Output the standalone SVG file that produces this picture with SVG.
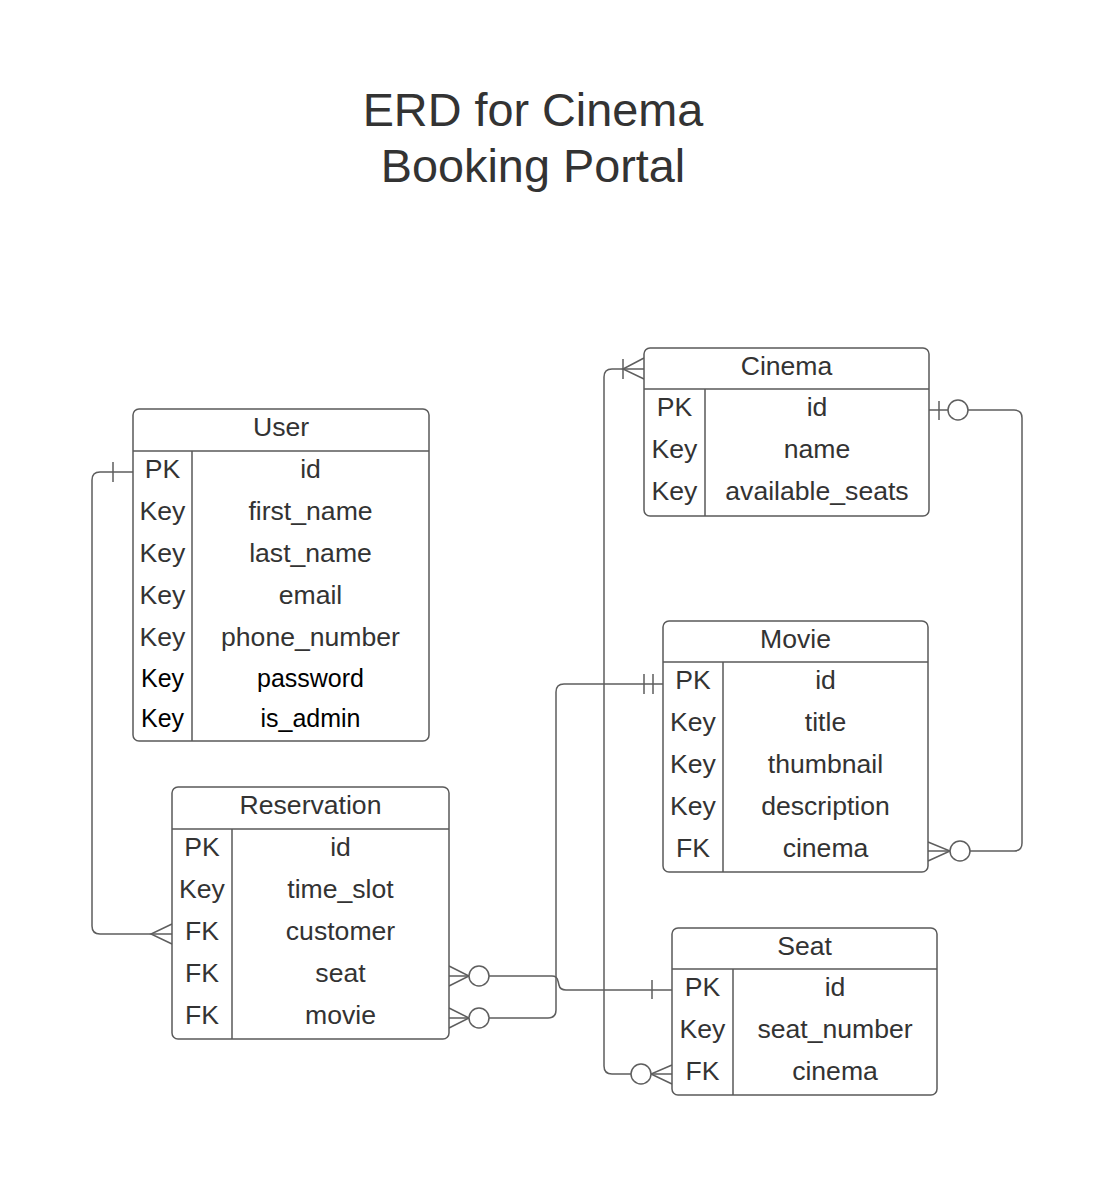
<svg xmlns="http://www.w3.org/2000/svg" width="1102" height="1179" viewBox="0 0 1102 1179">
<style>
.bg{fill:#ffffff}
.tbl{fill:#ffffff;stroke:#5a5a5a;stroke-width:1.5}
.ln{fill:none;stroke:#5a5a5a;stroke-width:1.5}
.cn{fill:none;stroke:#5e5e5e;stroke-width:1.5}
.ci{fill:#ffffff;stroke:#5e5e5e;stroke-width:1.5}
text{font-family:"Liberation Sans",Arial,sans-serif;fill:#333333;text-anchor:middle}
.t{font-size:26.6px}
.b{font-size:25px;fill:#000000}
.title{font-size:46.8px}
</style>
<rect class="bg" x="0" y="0" width="1102" height="1179"/>
<g id="title">
<text class="title" x="533" y="126">ERD for Cinema</text>
<text class="title" x="533" y="182">Booking Portal</text>
</g>
<g id="connectors">
<!-- User.id to Reservation.customer -->
<path class="cn" d="M133 472 H100 Q92 472 92 480 V926 Q92 934 100 934 H172"/>
<path class="cn" d="M113 462 V482"/>
<path class="cn" d="M172 924 L151 934 L172 944"/>
<!-- Cinema.id to Movie.cinema -->
<path class="cn" d="M929 410 H1014 Q1022 410 1022 418 V843 Q1022 851 1014 851 H928"/>
<path class="cn" d="M939 401 V420"/>
<circle class="ci" cx="958" cy="410" r="10"/>
<path class="cn" d="M928 842 L950 851 L928 861"/>
<circle class="ci" cx="960" cy="851" r="10"/>
<!-- Seat.cinema to Cinema -->
<path class="cn" d="M672 1074 H612 Q604 1074 604 1066 V377 Q604 369 612 369 H644"/>
<path class="cn" d="M672 1065 L651 1074 L672 1084"/>
<circle class="ci" cx="641" cy="1074" r="10"/>
<path class="cn" d="M644 358 L623 369 L644 379"/>
<path class="cn" d="M623 359 V379"/>
<!-- Reservation.seat to Seat.id -->
<path class="cn" d="M449 976 H552 Q557 976 558 981 L559 985 Q560 990 566 990 H672"/>
<path class="cn" d="M652 980 V999"/>
<path class="cn" d="M449 966 L469 976 L449 986"/>
<circle class="ci" cx="479" cy="976" r="10"/>
<!-- Reservation.movie to Movie.id -->
<path class="cn" d="M449 1018 H548 Q556 1018 556 1010 V692 Q556 684 564 684 H663"/>
<path class="cn" d="M644 674 V694 M653 674 V694"/>
<path class="cn" d="M449 1008 L469 1018 L449 1028"/>
<circle class="ci" cx="479" cy="1018" r="10"/>
</g>
<g id="user">
<rect class="tbl" x="133" y="409" width="296" height="332" rx="6"/>
<path class="ln" d="M133 451 H429 M192 451 V741"/>
<text class="t" x="281" y="436">User</text>
<text class="t" x="162.5" y="478">PK</text><text class="t" x="310.5" y="478">id</text>
<text class="t" x="162.5" y="520">Key</text><text class="t" x="310.5" y="520">first_name</text>
<text class="t" x="162.5" y="562">Key</text><text class="t" x="310.5" y="562">last_name</text>
<text class="t" x="162.5" y="604">Key</text><text class="t" x="310.5" y="604">email</text>
<text class="t" x="162.5" y="646">Key</text><text class="t" x="310.5" y="646">phone_number</text>
<text class="b" x="162.5" y="687">Key</text><text class="b" x="310.5" y="687">password</text>
<text class="b" x="162.5" y="727">Key</text><text class="b" x="310.5" y="727">is_admin</text>
</g>
<g id="reservation">
<rect class="tbl" x="172" y="787" width="277" height="252" rx="6"/>
<path class="ln" d="M172 829 H449 M232 829 V1039"/>
<text class="t" x="310.5" y="814">Reservation</text>
<text class="t" x="202" y="856">PK</text><text class="t" x="340.5" y="856">id</text>
<text class="t" x="202" y="898">Key</text><text class="t" x="340.5" y="898">time_slot</text>
<text class="t" x="202" y="940">FK</text><text class="t" x="340.5" y="940">customer</text>
<text class="t" x="202" y="982">FK</text><text class="t" x="340.5" y="982">seat</text>
<text class="t" x="202" y="1024">FK</text><text class="t" x="340.5" y="1024">movie</text>
</g>
<g id="cinema">
<rect class="tbl" x="644" y="348" width="285" height="168" rx="6"/>
<path class="ln" d="M644 389 H929 M705 389 V516"/>
<text class="t" x="786.5" y="375">Cinema</text>
<text class="t" x="674.5" y="416">PK</text><text class="t" x="817" y="416">id</text>
<text class="t" x="674.5" y="458">Key</text><text class="t" x="817" y="458">name</text>
<text class="t" x="674.5" y="500">Key</text><text class="t" x="817" y="500">available_seats</text>
</g>
<g id="movie">
<rect class="tbl" x="663" y="621" width="265" height="251" rx="6"/>
<path class="ln" d="M663 662 H928 M723 662 V872"/>
<text class="t" x="795.5" y="648">Movie</text>
<text class="t" x="693" y="689">PK</text><text class="t" x="825.5" y="689">id</text>
<text class="t" x="693" y="731">Key</text><text class="t" x="825.5" y="731">title</text>
<text class="t" x="693" y="773">Key</text><text class="t" x="825.5" y="773">thumbnail</text>
<text class="t" x="693" y="815">Key</text><text class="t" x="825.5" y="815">description</text>
<text class="t" x="693" y="857">FK</text><text class="t" x="825.5" y="857">cinema</text>
</g>
<g id="seat">
<rect class="tbl" x="672" y="928" width="265" height="167" rx="6"/>
<path class="ln" d="M672 969 H937 M733 969 V1095"/>
<text class="t" x="804.5" y="955">Seat</text>
<text class="t" x="702.5" y="996">PK</text><text class="t" x="835" y="996">id</text>
<text class="t" x="702.5" y="1038">Key</text><text class="t" x="835" y="1038">seat_number</text>
<text class="t" x="702.5" y="1080">FK</text><text class="t" x="835" y="1080">cinema</text>
</g>
</svg>
